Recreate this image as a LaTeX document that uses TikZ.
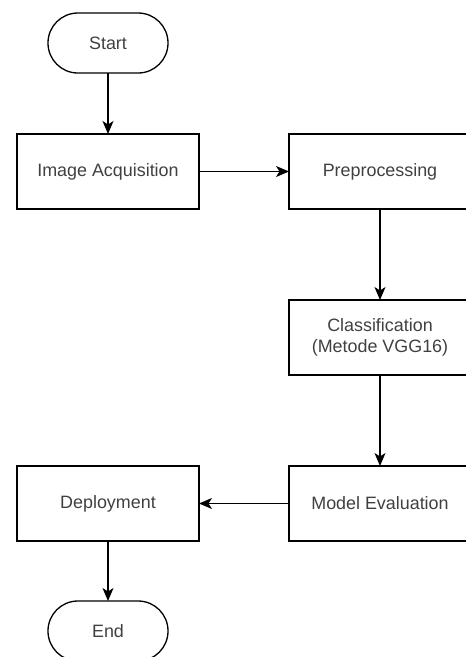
\documentclass[tikz,border=0pt]{standalone}
\usepackage{fontspec}
\setmainfont{Liberation Sans}
\usetikzlibrary{positioning,arrows.meta}

\tikzset{
  box/.style={draw, line width=1.3pt, minimum width=182pt, minimum height=75pt,
    inner sep=0pt, outer sep=0pt, align=center, text=black!75,
    font=\fontsize{17.9}{21}\selectfont},
  terminal/.style={box, minimum width=120pt, minimum height=60pt, rounded corners=29.9pt}
}

\begin{document}
\begin{tikzpicture}[->, >={Stealth[length=13pt,width=11pt,inset=3.5pt]}, line width=1.3pt, x=1pt, y=-1pt]
            \useasboundingbox (0,0) rectangle (466,657);
            \node (start) [terminal] at (108,43) {Start};
            \node (acq) [box, below=61pt of start] {Image Acquisition};
            \node (prep) [box, right=90pt of acq] {Preprocessing};
            \node (cls) [box, below=91pt of prep] {Classification\\(Metode VGG16)};
            \node (eval) [box, below=91pt of cls] {Model Evaluation};
            \node (dep) [box, left=90pt of eval] {Deployment};
            \node (end) [terminal, below=60pt of dep] {End};

            \path
            (start) edge (acq)
            (acq) edge (prep)
            (prep) edge (cls)
            (cls) edge (eval)
            (eval) edge (dep)
            (dep) edge (end);
        \end{tikzpicture}
\end{document}
